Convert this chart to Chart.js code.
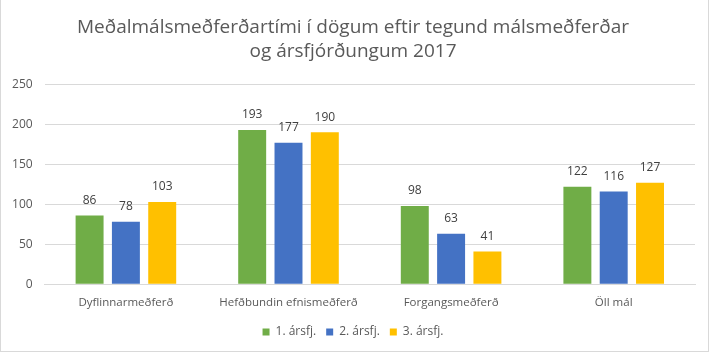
<!DOCTYPE html>
<html>
<head>
<meta charset="utf-8">
<script src="https://cdn.jsdelivr.net/npm/chart.js@4"></script>
<style>
html,body{margin:0;padding:0;background:#fff;}
#wrap{position:absolute;left:0;top:0;width:709px;height:352px;border-right:1px solid #d9d9d9;border-bottom:1px solid #d9d9d9;border-left:1px solid #d9d9d9;box-sizing:border-box;}
canvas{display:block;}
</style>
</head>
<body>
<div id="wrap"><canvas id="c" width="708" height="351"></canvas></div>
<script>
const titleLines = ["Meðalmálsmeðferðartími í dögum eftir tegund málsmeðferðar", "og ársfjórðungum 2017"];
const categories = ["Dyflinnarmeðferð", "Hefðbundin efnismeðferð", "Forgangsmeðferð", "Öll mál"];
const seriesNames = ["1. ársfj.", "2. ársfj.", "3. ársfj."];
const q1 = [86, 193, 98, 122];
const q2 = [78, 177, 63, 116];
const q3 = [103, 190, 41, 127];
const yTicks = [0, 50, 100, 150, 200, 250];

const FONT = "'Open Sans', Calibri, sans-serif";
const colors = ["#70AD47", "#4472C4", "#FFC000"];

const labelPlugin = {
  id: 'barLabels',
  afterDatasetsDraw(chart) {
    const ctx = chart.ctx;
    ctx.save();
    ctx.font = "12px " + FONT;
    ctx.fillStyle = "#404040";
    ctx.textAlign = "center";
    ctx.textBaseline = "bottom";
    chart.data.datasets.forEach((ds, i) => {
      chart.getDatasetMeta(i).data.forEach((el, j) => {
        ctx.fillText(String(ds.data[j]), el.x, el.y - 9);
      });
    });
    ctx.restore();
  }
};

new Chart(document.getElementById('c'), {
  type: 'bar',
  data: {
    labels: categories,
    datasets: [
      { label: seriesNames[0], data: q1, backgroundColor: colors[0] },
      { label: seriesNames[1], data: q2, backgroundColor: colors[1] },
      { label: seriesNames[2], data: q3, backgroundColor: colors[2] }
    ]
  },
  options: {
    responsive: false,
    animation: false,
    devicePixelRatio: 1,
    layout: { padding: { left: 10, right: 14, top: 15, bottom: 3 } },
    datasets: { bar: { categoryPercentage: 0.67, barPercentage: 0.77 } },
    plugins: {
      title: {
        display: true,
        text: titleLines,
        color: "#595959",
        font: { family: FONT, size: 19, weight: 'normal', lineHeight: 1.3 },
        padding: { top: 0, bottom: 20 }
      },
      legend: {
        position: 'bottom',
        labels: {
          boxWidth: 7, boxHeight: 7,
          color: "#595959",
          font: { family: FONT, size: 12 },
          padding: 10
        }
      },
      tooltip: { enabled: false }
    },
    scales: {
      x: {
        afterFit(s) { s.height = s.height - 6; s.paddingLeft = 0; s.paddingRight = 0; },
        grid: { display: false, drawTicks: false },
        border: { color: "#d9d9d9" },
        ticks: { color: "#595959", font: { family: FONT, size: 11.5 }, padding: 12 }
      },
      y: {
        min: 0, max: 250,
        afterBuildTicks(scale) { scale.ticks = yTicks.map(v => ({ value: v })); },
        afterFit(s) { s.width = 33.6; },
        grid: { color: "#d9d9d9", drawTicks: false },
        border: { display: false },
        ticks: { color: "#595959", font: { family: FONT, size: 12 }, padding: 12 }
      }
    }
  },
  plugins: [labelPlugin]
});
</script>
</body>
</html>
